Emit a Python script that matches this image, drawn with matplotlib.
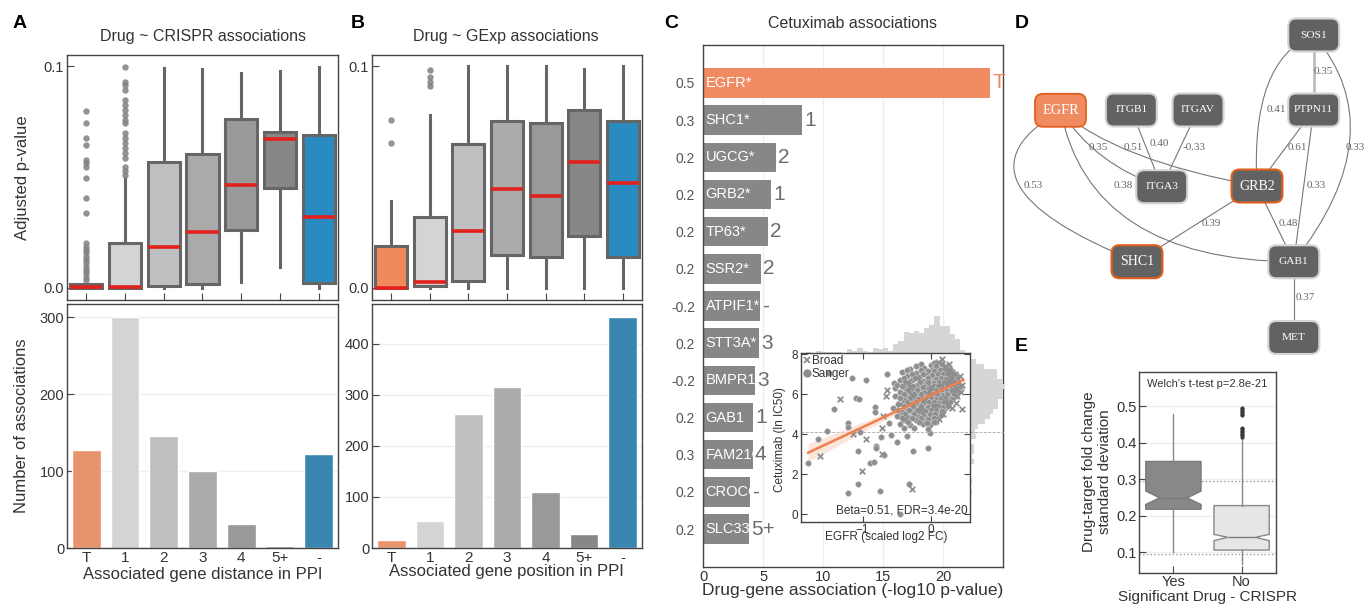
import numpy as np
import matplotlib
matplotlib.use('Agg')
import matplotlib.pyplot as plt
from matplotlib.patches import FancyBboxPatch, PathPatch
from matplotlib.path import Path
from matplotlib.lines import Line2D

W, H = 1366, 606

# ---------------- datos ----------------
dist_labels = ['T', '1', '2', '3', '4', '5+', '-']
box_colors = ['#f08a5d', '#d3d4d4', '#bfc0c1', '#aaaaaa', '#999999', '#878787', '#2a8bc0']
bar_colors = ['#e8956f', '#d3d4d4', '#bfc0c1', '#aaabab', '#999999', '#878787', '#3a86b0']

# panel A (CRISPR): adjusted p-value boxes
cr_q1 = [0.0, 0.0, 0.0006, 0.0017, 0.0261, 0.0449, 0.0021]
cr_med = [0.0003, 0.0005, 0.0183, 0.0251, 0.0462, 0.0671, 0.0318]
cr_q3 = [0.0015, 0.0204, 0.0569, 0.0604, 0.0761, 0.0703, 0.0689]
cr_wlo = [0.0, 0.0, 0.0, 0.0, 0.0024, 0.0096, 0.0]
cr_whi = [0.0018, 0.0494, 0.099, 0.0985, 0.0967, 0.0977, 0.0994]
cr_fliers = [
    [0.0799, 0.0742, 0.0674, 0.0644, 0.0577, 0.0562, 0.0547, 0.0494, 0.0404, 0.0336,
     0.0201, 0.0185, 0.017, 0.0155, 0.014, 0.0125, 0.011, 0.0095, 0.008, 0.0065, 0.005, 0.0035],
    [0.0997, 0.0929, 0.0914, 0.0892, 0.0847, 0.0824, 0.0802, 0.0779, 0.0757, 0.0742,
     0.0697, 0.0674, 0.0652, 0.0629, 0.0607, 0.0584, 0.0547, 0.0529, 0.051],
    [], [], [], [], []]
cr_counts = [127, 300, 146, 100, 31, 3, 122]

# panel B (GExp)
ge_q1 = [0.0, 0.0006, 0.0029, 0.0149, 0.0137, 0.0234, 0.0137]
ge_med = [0.0, 0.0026, 0.0258, 0.0444, 0.0414, 0.0566, 0.0471]
ge_q3 = [0.0189, 0.0318, 0.0649, 0.0754, 0.0745, 0.0803, 0.0754]
ge_wlo = [0.0, 0.0, 0.0, 0.0, 0.0, 0.0, 0.0]
ge_whi = [0.0392, 0.078, 0.1, 0.1, 0.1, 0.0985, 0.1]
ge_fliers = [[0.0757, 0.0655], [0.0982, 0.0949, 0.0929, 0.091], [], [], [], [], []]
ge_counts = [16, 53, 263, 315, 109, 28, 452]

# panel C: cetuximab associations
genes = ['EGFR*', 'SHC1*', 'UGCG*', 'GRB2*', 'TP63*', 'SSR2*', 'ATPIF1*', 'STT3A*',
         'BMPR1A', 'GAB1', 'FAM21C', 'CROCC', 'SLC33A1']
logp = [23.9, 8.22, 6.06, 5.64, 5.39, 4.8, 4.72, 4.64, 4.3, 4.14, 4.1, 3.89, 3.8]
betas = ['0.5', '0.3', '0.2', '0.2', '0.2', '0.2', '-0.2', '0.2', '-0.2', '0.2', '0.3', '0.2', '0.2']
gene_dist = ['T', '1', '2', '1', '2', '2', '-', '3', '3', '1', '4', '-', '5+']

# inset scatter: EGFR fold change vs cetuximab IC50
sanger_pts = [
    (-1.795, 2.58), (-1.649, 3.78), (-1.527, 4.18), (-1.415, 5.28), (-1.21, 4.58), (-1.21, 4.35),
    (-1.098, 5.8), (-1.054, 5.75), (-1.073, 3.18), (-1.039, 4.13), (-0.956, 6.72), (-1.161, 6.8),
    (-1.488, 7.05), (-1.21, 1.08), (-1.063, 1.5), (-0.893, 2.55), (-0.834, 2.63), (-0.805, 3.42),
    (-0.805, 3.3), (-0.82, 5.38), (-0.82, 5.13), (-0.746, 1.18), (-0.732, 3.88), (-0.683, 2.97),
    (-0.649, 7.0), (-0.541, 6.58), (-0.527, 6.3), (-0.61, 4.55), (-0.585, 3.97), (-0.502, 3.63),
    (-0.268, 3.18), (-0.317, 1.5), (-0.049, 3.33), (-0.015, 4.05), (-0.146, 7.47), (-0.45, 0.03),
    (-0.45, 4.9), (-0.4, 4.3), (-0.35, 3.9),
    (-0.15, 7.52), (0.0, 7.45), (0.05, 7.58), (0.12, 7.4),
    (-0.3, 7.28), (-0.1, 7.33), (0.02, 7.22), (0.1, 7.3), (0.18, 7.25), (0.25, 7.35),
    (-0.42, 7.12), (-0.22, 7.05), (-0.05, 7.15), (0.08, 7.08), (0.15, 7.12), (0.22, 7.02), (0.3, 7.08),
    (-0.35, 6.92), (-0.18, 6.88), (-0.08, 6.95), (0.0, 6.85), (0.06, 6.93), (0.12, 6.86), (0.2, 6.9),
    (0.28, 6.95),
    (-0.45, 6.7), (-0.28, 6.72), (-0.12, 6.66), (-0.02, 6.74), (0.04, 6.68), (0.1, 6.72), (0.17, 6.65),
    (0.25, 6.7), (0.33, 6.75),
    (-0.5, 6.48), (-0.32, 6.52), (-0.2, 6.45), (-0.08, 6.5), (0.0, 6.55), (0.07, 6.46), (0.14, 6.52),
    (0.21, 6.48), (0.3, 6.5), (0.38, 6.42),
    (-0.38, 6.3), (-0.25, 6.27), (-0.15, 6.33), (-0.05, 6.28), (0.03, 6.32), (0.1, 6.26), (0.18, 6.3),
    (0.26, 6.35), (0.35, 6.25),
    (-0.46, 6.1), (-0.3, 6.12), (-0.18, 6.06), (-0.1, 6.14), (0.0, 6.08), (0.06, 6.15), (0.13, 6.1),
    (0.2, 6.05), (0.29, 6.12),
    (-0.52, 5.9), (-0.35, 5.88), (-0.22, 5.93), (-0.12, 5.86), (-0.03, 5.92), (0.05, 5.88), (0.11, 5.95),
    (0.19, 5.9), (0.27, 5.86), (0.36, 5.92),
    (-0.4, 5.7), (-0.26, 5.72), (-0.16, 5.66), (-0.06, 5.74), (0.02, 5.68), (0.09, 5.72), (0.16, 5.7),
    (0.24, 5.66),
    (-0.48, 5.5), (-0.3, 5.52), (-0.2, 5.46), (-0.09, 5.5), (0.0, 5.54), (0.08, 5.48), (0.15, 5.52),
    (0.22, 5.45),
    (-0.55, 5.3), (-0.36, 5.28), (-0.24, 5.33), (-0.12, 5.27), (-0.02, 5.3), (0.06, 5.34), (0.13, 5.26),
    (0.2, 5.3),
    (-0.42, 5.1), (-0.28, 5.12), (-0.15, 5.06), (-0.05, 5.1), (0.04, 5.14), (0.12, 5.08),
    (-0.5, 4.9), (-0.33, 4.88), (-0.2, 4.93), (-0.08, 4.87), (0.02, 4.9), (0.1, 4.85),
    (-0.38, 4.7), (-0.22, 4.72), (-0.1, 4.66), (0.0, 4.7), (0.08, 4.62),
    (-0.45, 4.5), (-0.3, 4.48), (-0.12, 4.52), (-0.02, 4.45),
    (-0.25, 4.3), (-0.05, 4.28),
    (-0.22, 7.4), (0.08, 7.42), (0.16, 7.5),
    (-0.35, 7.2), (-0.15, 7.22), (0.05, 7.18), (0.13, 7.2), (0.21, 7.22), (0.28, 7.25),
    (-0.28, 7.0), (-0.12, 7.02), (0.02, 6.98), (0.1, 7.0), (0.17, 7.03), (0.25, 6.98), (0.33, 7.02),
    (-0.4, 6.8), (-0.24, 6.8), (-0.05, 6.82), (0.08, 6.78), (0.14, 6.8), (0.22, 6.78), (0.3, 6.82),
    (0.38, 6.78),
    (-0.38, 6.6), (-0.16, 6.6), (-0.04, 6.62), (0.04, 6.58), (0.12, 6.62), (0.19, 6.6), (0.27, 6.58),
    (0.35, 6.62),
    (-0.42, 6.4), (-0.27, 6.4), (-0.11, 6.38), (0.04, 6.4), (0.1, 6.42), (0.17, 6.38), (0.24, 6.42),
    (0.32, 6.38), (0.42, 6.36),
    (-0.33, 6.2), (-0.2, 6.22), (-0.02, 6.18), (0.07, 6.2), (0.15, 6.22), (0.23, 6.18), (0.31, 6.2),
    (0.4, 6.18),
    (-0.4, 6.0), (-0.25, 6.0), (-0.14, 6.02), (0.03, 6.0), (0.09, 6.02), (0.17, 5.98), (0.24, 6.02),
    (0.33, 6.0),
    (-0.45, 5.8), (-0.3, 5.8), (-0.19, 5.78), (-0.08, 5.82), (0.0, 5.8), (0.07, 5.78), (0.14, 5.82),
    (0.21, 5.8), (0.3, 5.78),
    (-0.35, 5.6), (-0.22, 5.62), (-0.12, 5.58), (-0.03, 5.6), (0.05, 5.62), (0.12, 5.58), (0.19, 5.6),
    (0.28, 5.62),
    (-0.4, 5.4), (-0.26, 5.4), (-0.15, 5.42), (-0.05, 5.38), (0.03, 5.4), (0.1, 5.42), (0.17, 5.38),
    (0.25, 5.4),
    (-0.48, 5.2), (-0.32, 5.2), (-0.2, 5.22), (-0.09, 5.18), (0.0, 5.2), (0.08, 5.22), (0.16, 5.18),
    (-0.38, 5.0), (-0.25, 5.02), (-0.12, 4.98), (-0.02, 5.0), (0.06, 5.02), (0.14, 4.98),
    (-0.43, 4.8), (-0.28, 4.8), (-0.15, 4.82), (-0.04, 4.78), (0.05, 4.8),
    (-0.33, 4.6), (-0.18, 4.6), (-0.06, 4.58), (0.04, 4.6)]
broad_pts = [
    (-1.332, 5.75), (-1.624, 2.92), (-1.015, 2.18), (-0.951, 3.75), (-1.137, 4.02), (-0.722, 4.3),
    (-0.649, 6.22), (-0.659, 5.93), (-0.698, 4.92), (-0.273, 1.27), (-0.722, 3.02), (0.156, 7.75),
    (0.449, 5.25), (0.439, 6.13), (0.302, 7.13), (0.229, 6.63), (0.376, 6.3),
    (0.35, 7.0), (0.28, 6.85), (0.4, 6.55), (0.32, 6.2), (0.38, 5.9), (0.25, 5.6), (0.3, 5.3),
    (-0.35, 6.6), (-0.28, 5.95), (-0.45, 5.5), (-0.15, 5.2), (0.18, 5.0), (-0.38, 4.75), (0.1, 7.6),
    (0.2, 7.4), (-0.05, 6.0), (0.05, 5.4), (0.15, 6.45), (-0.2, 6.8), (0.25, 7.15),
    (0.42, 6.9), (0.3, 6.62), (0.36, 5.55), (-0.1, 5.75), (0.0, 6.35), (0.2, 5.85), (-0.3, 6.35),
    (0.12, 4.75), (0.27, 7.5), (0.45, 6.45)]
fit_x = [-1.795, 0.473]
fit_y = [3.08, 6.72]
band_x = [-1.8, -1.2, -0.6, -0.2, 0.2, 0.47]
band_lo = [2.62, 3.73, 4.85, 5.56, 6.2, 6.58]
band_hi = [3.52, 4.34, 5.15, 5.72, 6.36, 6.86]

# panel D: network (nodes in panel pixel coordinates)
nodes = {
    'SOS1': (313.7, 35, 'n'), 'PTPN11': (313.7, 110, 'n'), 'EGFR': (60.5, 110.3, 'target'),
    'ITGB1': (131.3, 110, 'n'), 'ITGAV': (198, 110, 'n'), 'ITGA3': (161.7, 186.7, 'n'),
    'GRB2': (257, 186, 'hit'), 'SHC1': (137, 261.7, 'hit'), 'GAB1': (293.8, 261.8, 'n'),
    'MET': (293.8, 337.5, 'n')}
# (a, b, control point or None, label, label position)
edges = [
    ('EGFR', 'SHC1', (-62, 182), '0.53', (33, 185)),
    ('EGFR', 'GAB1', (90, 260), '0.38', (123, 185)),
    ('EGFR', 'ITGA3', (95, 165), '0.35', (98, 147)),
    ('EGFR', 'GRB2', (115, 160), '0.51', (133, 147)),
    ('ITGB1', 'ITGA3', None, '0.40', (159, 143)),
    ('ITGAV', 'ITGA3', None, '-0.33', (194, 147)),
    ('GRB2', 'SHC1', None, '0.39', (211, 223)),
    ('GRB2', 'GAB1', None, '0.48', (288, 223)),
    ('PTPN11', 'GRB2', None, '0.61', (297, 147)),
    ('PTPN11', 'GAB1', None, '0.33', (316, 185)),
    ('SOS1', 'PTPN11', None, '0.35', (323, 72)),
    ('SOS1', 'GRB2', (250, 60), '0.41', (276, 109)),
    ('SOS1', 'GAB1', (396, 131), '0.33', (355, 147)),
    ('GAB1', 'MET', None, '0.37', (305, 298))]

# panel E: notched boxes
sig_labels = ['Yes', 'No']
sig_q1 = [0.218, 0.106]
sig_med = [0.249, 0.141]
sig_q3 = [0.349, 0.228]
sig_wlo = [0.101, 0.067]
sig_whi = [0.478, 0.41]
sig_cilo = [0.231, 0.132]
sig_cihi = [0.268, 0.149]
sig_fliers = [[], [0.417, 0.421, 0.425, 0.429, 0.433, 0.437, 0.441,
                   0.476, 0.48, 0.484, 0.488, 0.492, 0.496]]

# ---------------- estilo ----------------
plt.rcParams['font.family'] = ['Liberation Sans', 'DejaVu Sans']
plt.rcParams['axes.edgecolor'] = '#444444'
plt.rcParams['axes.linewidth'] = 1.0
plt.rcParams['text.color'] = '#333333'
plt.rcParams['axes.labelcolor'] = '#333333'
plt.rcParams['xtick.color'] = '#444444'
plt.rcParams['ytick.color'] = '#444444'
plt.rcParams['xtick.labelcolor'] = '#333333'
plt.rcParams['ytick.labelcolor'] = '#333333'


def caja(l, t, r, b):
    # pixel box -> figure fraction
    return [l / W, 1 - b / H, (r - l) / W, (b - t) / H]


def pos(x, y):
    return x / W, 1 - y / H


def xlabel_at(ax, txt, x, y, size):
    ax.set_xlabel(txt, fontsize=size, va='center')
    ax.xaxis.set_label_coords(*pos(x, y), transform=fig.transFigure)


def ylabel_at(ax, txt, x, y, size):
    ax.set_ylabel(txt, fontsize=size, va='center', ha='center')
    ax.yaxis.set_label_coords(*pos(x, y), transform=fig.transFigure)


def boxes(ax, q1, med, q3, wlo, whi, fliers):
    stats = [dict(q1=q1[i], med=med[i], q3=q3[i], whislo=wlo[i], whishi=whi[i], fliers=fliers[i])
             for i in range(len(q1))]
    bp = ax.bxp(stats, positions=range(len(stats)), widths=0.83, patch_artist=True, showcaps=False,
                boxprops=dict(edgecolor='#666666', linewidth=2.2),
                whiskerprops=dict(color='#666666', linewidth=2.2),
                medianprops=dict(color='#e3211c', linewidth=2.6),
                flierprops=dict(marker='o', markerfacecolor='#808080', markeredgecolor='none',
                                markersize=4.6, alpha=0.85))
    for patch, c in zip(bp['boxes'], box_colors):
        patch.set_facecolor(c)
    ax.set_xlim(-0.5, 6.5)
    ax.set_ylim(-0.0055, 0.105)
    ax.set_yticks([0, 0.1], ['0.0', '0.1'])
    ax.set_xticks(range(7), [''] * 7)
    ax.tick_params(direction='in', length=5, labelsize=10.5, pad=2)


def bars(ax, counts, ymax, yticks):
    ax.bar(range(7), counts, width=0.74, color=bar_colors, edgecolor='white', linewidth=1)
    ax.set_xlim(-0.5, 6.5)
    ax.set_ylim(0, ymax)
    ax.set_yticks(yticks)
    ax.set_xticks(range(7), dist_labels)
    ax.tick_params(axis='x', length=0, pad=2, labelsize=11)
    ax.tick_params(axis='y', direction='in', length=5, labelsize=10.5, pad=2)
    ax.grid(axis='y', color='#eeeeee', lw=1)
    ax.set_axisbelow(True)


fig = plt.figure(figsize=(W / 100, H / 100), dpi=100)

# ---------------- panel A ----------------
ax_a1 = fig.add_axes(caja(67, 55, 338, 300))
boxes(ax_a1, cr_q1, cr_med, cr_q3, cr_wlo, cr_whi, cr_fliers)
ylabel_at(ax_a1, 'Adjusted p-value', 23, 177.5, 12)
ax_a2 = fig.add_axes(caja(67, 304, 338, 548))
bars(ax_a2, cr_counts, 317, [0, 100, 200, 300])
ylabel_at(ax_a2, 'Number of associations', 22, 426, 12)
xlabel_at(ax_a2, 'Associated gene distance in PPI', 202.5, 575, 12)
fig.text(*pos(202.5, 37), 'Drug ~ CRISPR associations', ha='center', va='center', fontsize=11.5)

# ---------------- panel B ----------------
ax_b1 = fig.add_axes(caja(372, 55, 642, 300))
boxes(ax_b1, ge_q1, ge_med, ge_q3, ge_wlo, ge_whi, ge_fliers)
ax_b2 = fig.add_axes(caja(372, 304, 642, 548))
bars(ax_b2, ge_counts, 478, [0, 100, 200, 300, 400])
xlabel_at(ax_b2, 'Associated gene position in PPI', 506.7, 571.7, 12)
fig.text(*pos(506, 37), 'Drug ~ GExp associations', ha='center', va='center', fontsize=11.5)

# ---------------- panel C ----------------
ax_c = fig.add_axes(caja(703.3, 45, 1003.3, 567))
ypos = np.arange(len(genes))
c_colors = ['#f08a60'] + ['#878787'] * (len(genes) - 1)
barras = ax_c.barh(ypos, logp, height=0.79, color=c_colors, zorder=2)
for i in range(len(genes)):
    t = ax_c.text(0.2, ypos[i], genes[i], color='white', va='center', ha='left', fontsize=10.5, zorder=3)
    t.set_clip_path(barras.patches[i])  # name cut at the end of its bar
    col = '#f08a60' if gene_dist[i] == 'T' else '#6d6d6d'
    ax_c.text(logp[i] + 0.2, ypos[i], gene_dist[i], color=col, va='center', ha='left',
              fontsize=15, zorder=4, clip_on=False)
ax_c.set_xlim(0, 25)
ax_c.set_ylim(13.02, -1.02)
ax_c.set_yticks(ypos, betas)
ax_c.get_yticklabels()[0].set_color('#f08a60')
ax_c.tick_params(axis='y', length=0, labelsize=10, pad=6, labelcolor='#555555')
ax_c.set_xticks([0, 5, 10, 15, 20])
ax_c.tick_params(axis='x', length=0, labelsize=10.5, pad=2)
ax_c.grid(axis='x', color='#eeeeee', lw=1)
ax_c.set_axisbelow(True)
xlabel_at(ax_c, 'Drug-gene association (-log10 p-value)', 852.5, 591, 12.5)
fig.text(*pos(853, 23), 'Cetuximab associations', ha='center', va='center', fontsize=11.5)

# inset: marginal histograms + scatter
sx = np.array([p[0] for p in sanger_pts])
sy = np.array([p[1] for p in sanger_pts])
bx = np.array([p[0] for p in broad_pts])
by = np.array([p[1] for p in broad_pts])
all_x = np.concatenate([sx, bx])
all_y = np.concatenate([sy, by])
in_xlim = (-1.9, 0.57)
in_ylim = (-0.37, 8.08)

ax_hx = fig.add_axes(caja(801, 316, 970, 352.7))
n, _, _ = ax_hx.hist(all_x, bins=np.arange(-1.9, 0.6, 0.075), color='#d6d6d6', edgecolor='none')
ax_hx.set_xlim(in_xlim)
ax_hx.set_ylim(0, n.max())
ax_hx.axis('off')

ax_hy = fig.add_axes(caja(970, 352.7, 1004, 521.7))
n, _, _ = ax_hy.hist(all_y, bins=np.arange(0, 8.3, 0.25), orientation='horizontal',
                     color='#d6d6d6', edgecolor='none')
ax_hy.axhline(4.1, color='#aaaaaa', ls='--', lw=0.6)
ax_hy.set_ylim(in_ylim)
ax_hy.set_xlim(0, n.max())
ax_hy.axis('off')

ax_in = fig.add_axes(caja(801, 352.7, 970, 521.7))
ax_in.axhline(4.1, color='#aaaaaa', ls='--', lw=0.6, zorder=0)
ax_in.fill_between(band_x, band_lo, band_hi, color='#fbd6c4', alpha=0.6, lw=0, zorder=1)
ax_in.scatter(sx, sy, s=18, c='#8e8e8e', edgecolors='#cfcfcf', linewidths=0.4, zorder=2)
ax_in.scatter(bx, by, s=16, marker='x', c='#8e8e8e', linewidths=1.3, zorder=2)
ax_in.plot(fit_x, fit_y, color='#f07f4f', lw=1.8, zorder=3)
ax_in.set_xlim(in_xlim)
ax_in.set_ylim(in_ylim)
ax_in.set_xticks([-1, 0])
ax_in.set_yticks([0, 2, 4, 6, 8])
ax_in.tick_params(direction='in', length=4, top=True, right=True, labelsize=8.5, pad=2)
handles = [Line2D([], [], marker='x', ls='none', color='#8e8e8e', markersize=4.5, mew=1.3),
           Line2D([], [], marker='o', ls='none', color='#8e8e8e', markersize=5)]
ax_in.legend(handles, ['Broad', 'Sanger'], loc='upper left', frameon=False, fontsize=8.5,
             handlelength=0.6, handletextpad=0.1, borderaxespad=0.1, borderpad=0.1, labelspacing=0.05)
ax_in.text(0.985, 0.03, 'Beta=0.51, FDR=3.4e-20', transform=ax_in.transAxes, ha='right',
           va='bottom', fontsize=8.5)
xlabel_at(ax_in, 'EGFR (scaled log2 FC)', 885.8, 537.3, 8.5)
ylabel_at(ax_in, 'Cetuximab (ln IC50)', 780, 439, 8.5)

# ---------------- panel D ----------------
ax_d = fig.add_axes(caja(1000, 0, 1366, 360))
ax_d.set_xlim(0, 366)
ax_d.set_ylim(360, 0)
ax_d.axis('off')
for a, b, ctrl, lab, lp in edges:
    p0 = nodes[a][:2]
    p2 = nodes[b][:2]
    if ctrl is None:
        path = Path([p0, p2], [Path.MOVETO, Path.LINETO])
    else:
        path = Path([p0, ctrl, p2], [Path.MOVETO, Path.CURVE3, Path.CURVE3])
    if (a, b) == ('SOS1', 'PTPN11'):
        ax_d.add_patch(PathPatch(path, fc='none', ec='#bdbdbd', lw=2, zorder=1))
    else:
        ax_d.add_patch(PathPatch(path, fc='none', ec='#777777', lw=0.8, zorder=1))
    ax_d.text(lp[0], lp[1], lab, family='Liberation Serif', fontsize=8, color='#666666',
              ha='center', va='center', zorder=2)
for name, (x, y, kind) in nodes.items():
    w, h = 51, 33
    if kind == 'target':
        fc, ec, lw, fs = '#f08a60', '#e0601e', 1.3, 10.3
    elif kind == 'hit':
        fc, ec, lw, fs = '#626262', '#e0601e', 1.5, 10
    else:
        fc, ec, lw, fs = '#626262', '#d4d4d4', 1.5, 8.2
    ax_d.add_patch(FancyBboxPatch((x - w / 2, y - h / 2), w, h,
                                  boxstyle='round,pad=0,rounding_size=8',
                                  fc=fc, ec=ec, lw=lw, zorder=3))
    ax_d.text(x, y, name, family='Liberation Serif', fontsize=fs, color='white',
              ha='center', va='center', zorder=4)

# ---------------- panel E ----------------
ax_e = fig.add_axes(caja(1139.3, 371.7, 1275.7, 572.7))
stats_e = [dict(q1=sig_q1[i], med=sig_med[i], q3=sig_q3[i], whislo=sig_wlo[i], whishi=sig_whi[i],
                cilo=sig_cilo[i], cihi=sig_cihi[i], fliers=sig_fliers[i]) for i in range(2)]
ax_e.axhline(0.295, color='#999999', ls=':', lw=1, zorder=0.5)
ax_e.axhline(0.0955, color='#999999', ls=':', lw=1, zorder=0.5)
bp = ax_e.bxp(stats_e, positions=[0, 1], widths=0.81, shownotches=True, patch_artist=True,
              showcaps=False,
              whiskerprops=dict(color='#888888', linewidth=1),
              medianprops=dict(color='#7a7a7a', linewidth=1),
              flierprops=dict(marker='o', markerfacecolor='#3a3a3a', markeredgecolor='none',
                              markersize=3.0))
bp['boxes'][0].set_facecolor('#888888')
bp['boxes'][0].set_edgecolor('#7a7a7a')
bp['boxes'][1].set_facecolor('#e6e6e6')
bp['boxes'][1].set_edgecolor('#888888')
ax_e.set_xlim(-0.5, 1.5)
ax_e.set_ylim(0.044, 0.595)
ax_e.set_yticks([0.1, 0.2, 0.3, 0.4, 0.5])
ax_e.set_xticks([0, 1], sig_labels)
ax_e.tick_params(direction='in', length=5, labelsize=10.5, pad=2)
ax_e.grid(axis='y', color='#eeeeee', lw=1)
ax_e.set_axisbelow(True)
ax_e.text(0.5, 0.965, "Welch's t-test p=2.8e-21", transform=ax_e.transAxes, ha='center',
          va='top', fontsize=8)
ylabel_at(ax_e, 'Drug-target fold change\nstandard deviation', 1097, 471.7, 11)
xlabel_at(ax_e, 'Significant Drug - CRISPR', 1207.8, 596.7, 11)

# panel letters
for letra, x, y in [('A', 20, 24), ('B', 357.5, 23.3), ('C', 671.7, 23.3), ('D', 1021.7, 24),
                    ('E', 1021, 346.7)]:
    fig.text(*pos(x, y), letra, fontsize=14, fontweight='bold', color='black', ha='center', va='center')

fig.savefig('out.png', dpi=100)
